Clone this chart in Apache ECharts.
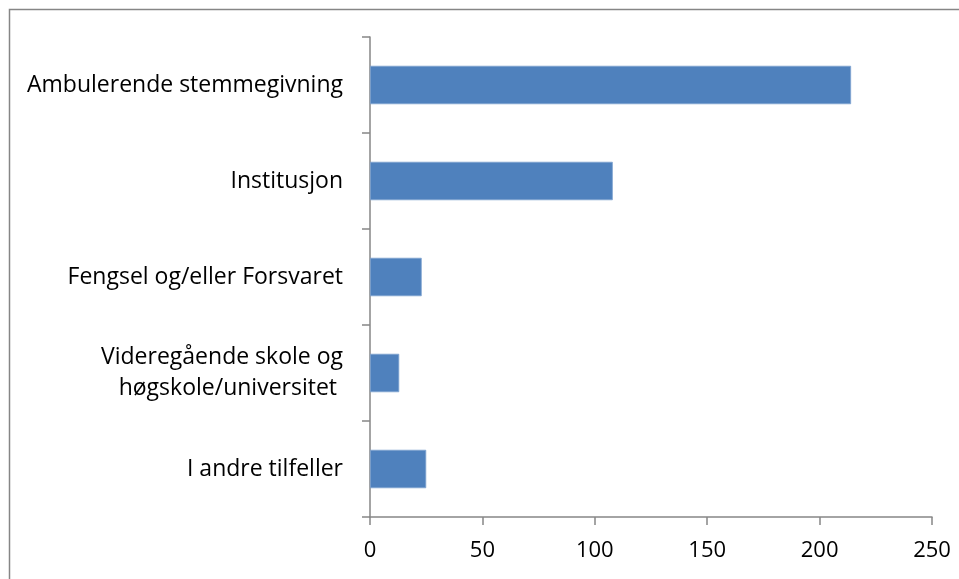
<!DOCTYPE html>
<html><head><meta charset="utf-8">
<script src="https://cdn.jsdelivr.net/npm/echarts@6/dist/echarts.min.js"></script>
<style>html,body{margin:0;padding:0;background:#fff}#c{width:959px;height:579px}</style>
</head><body><div id="c"></div>
<script>
const categories = ["Ambulerende stemmegivning","Institusjon","Fengsel og/eller Forsvaret","Videregående skole og\nhøgskole/universitet ","I andre tilfeller"];
const values = [214,108,23,13,25];
const xTicks = [0,50,100,150,200,250];

const chart = echarts.init(document.getElementById('c'), null, {renderer:'canvas'});
const font = '"Open Sans", sans-serif';
chart.setOption({
  animation:false,
  backgroundColor:'#fff',
  graphic:[{type:'rect',left:7,top:7,shape:{x:0,y:0,width:1000,height:1000},style:{fill:'none',stroke:'#868686',lineWidth:1.5},silent:true}],
  grid:{left:370,top:37,right:27,bottom:62,containLabel:false},
  xAxis:{type:'value',min:xTicks[0],max:xTicks[xTicks.length-1],interval:50,
    axisLine:{show:true,lineStyle:{color:'#868686',width:1.5}},
    axisTick:{show:true,length:8,lineStyle:{color:'#868686',width:1.5}},
    splitLine:{show:false},
    axisLabel:{color:'#000',fontFamily:font,fontSize:22,margin:23}},
  yAxis:{type:'category',data:categories,inverse:true,
    axisLine:{show:true,lineStyle:{color:'#868686',width:1.5}},
    axisTick:{show:true,length:8,lineStyle:{color:'#868686',width:1.5}},
    axisLabel:{color:'#000',fontFamily:font,fontSize:23,margin:27,lineHeight:31,align:'right'}},
  series:[{type:'bar',data:values,barWidth:'40%',
    itemStyle:{color:'#4F81BD',borderColor:'#7FA3D1',borderWidth:0.8}}]
});
</script></body></html>
